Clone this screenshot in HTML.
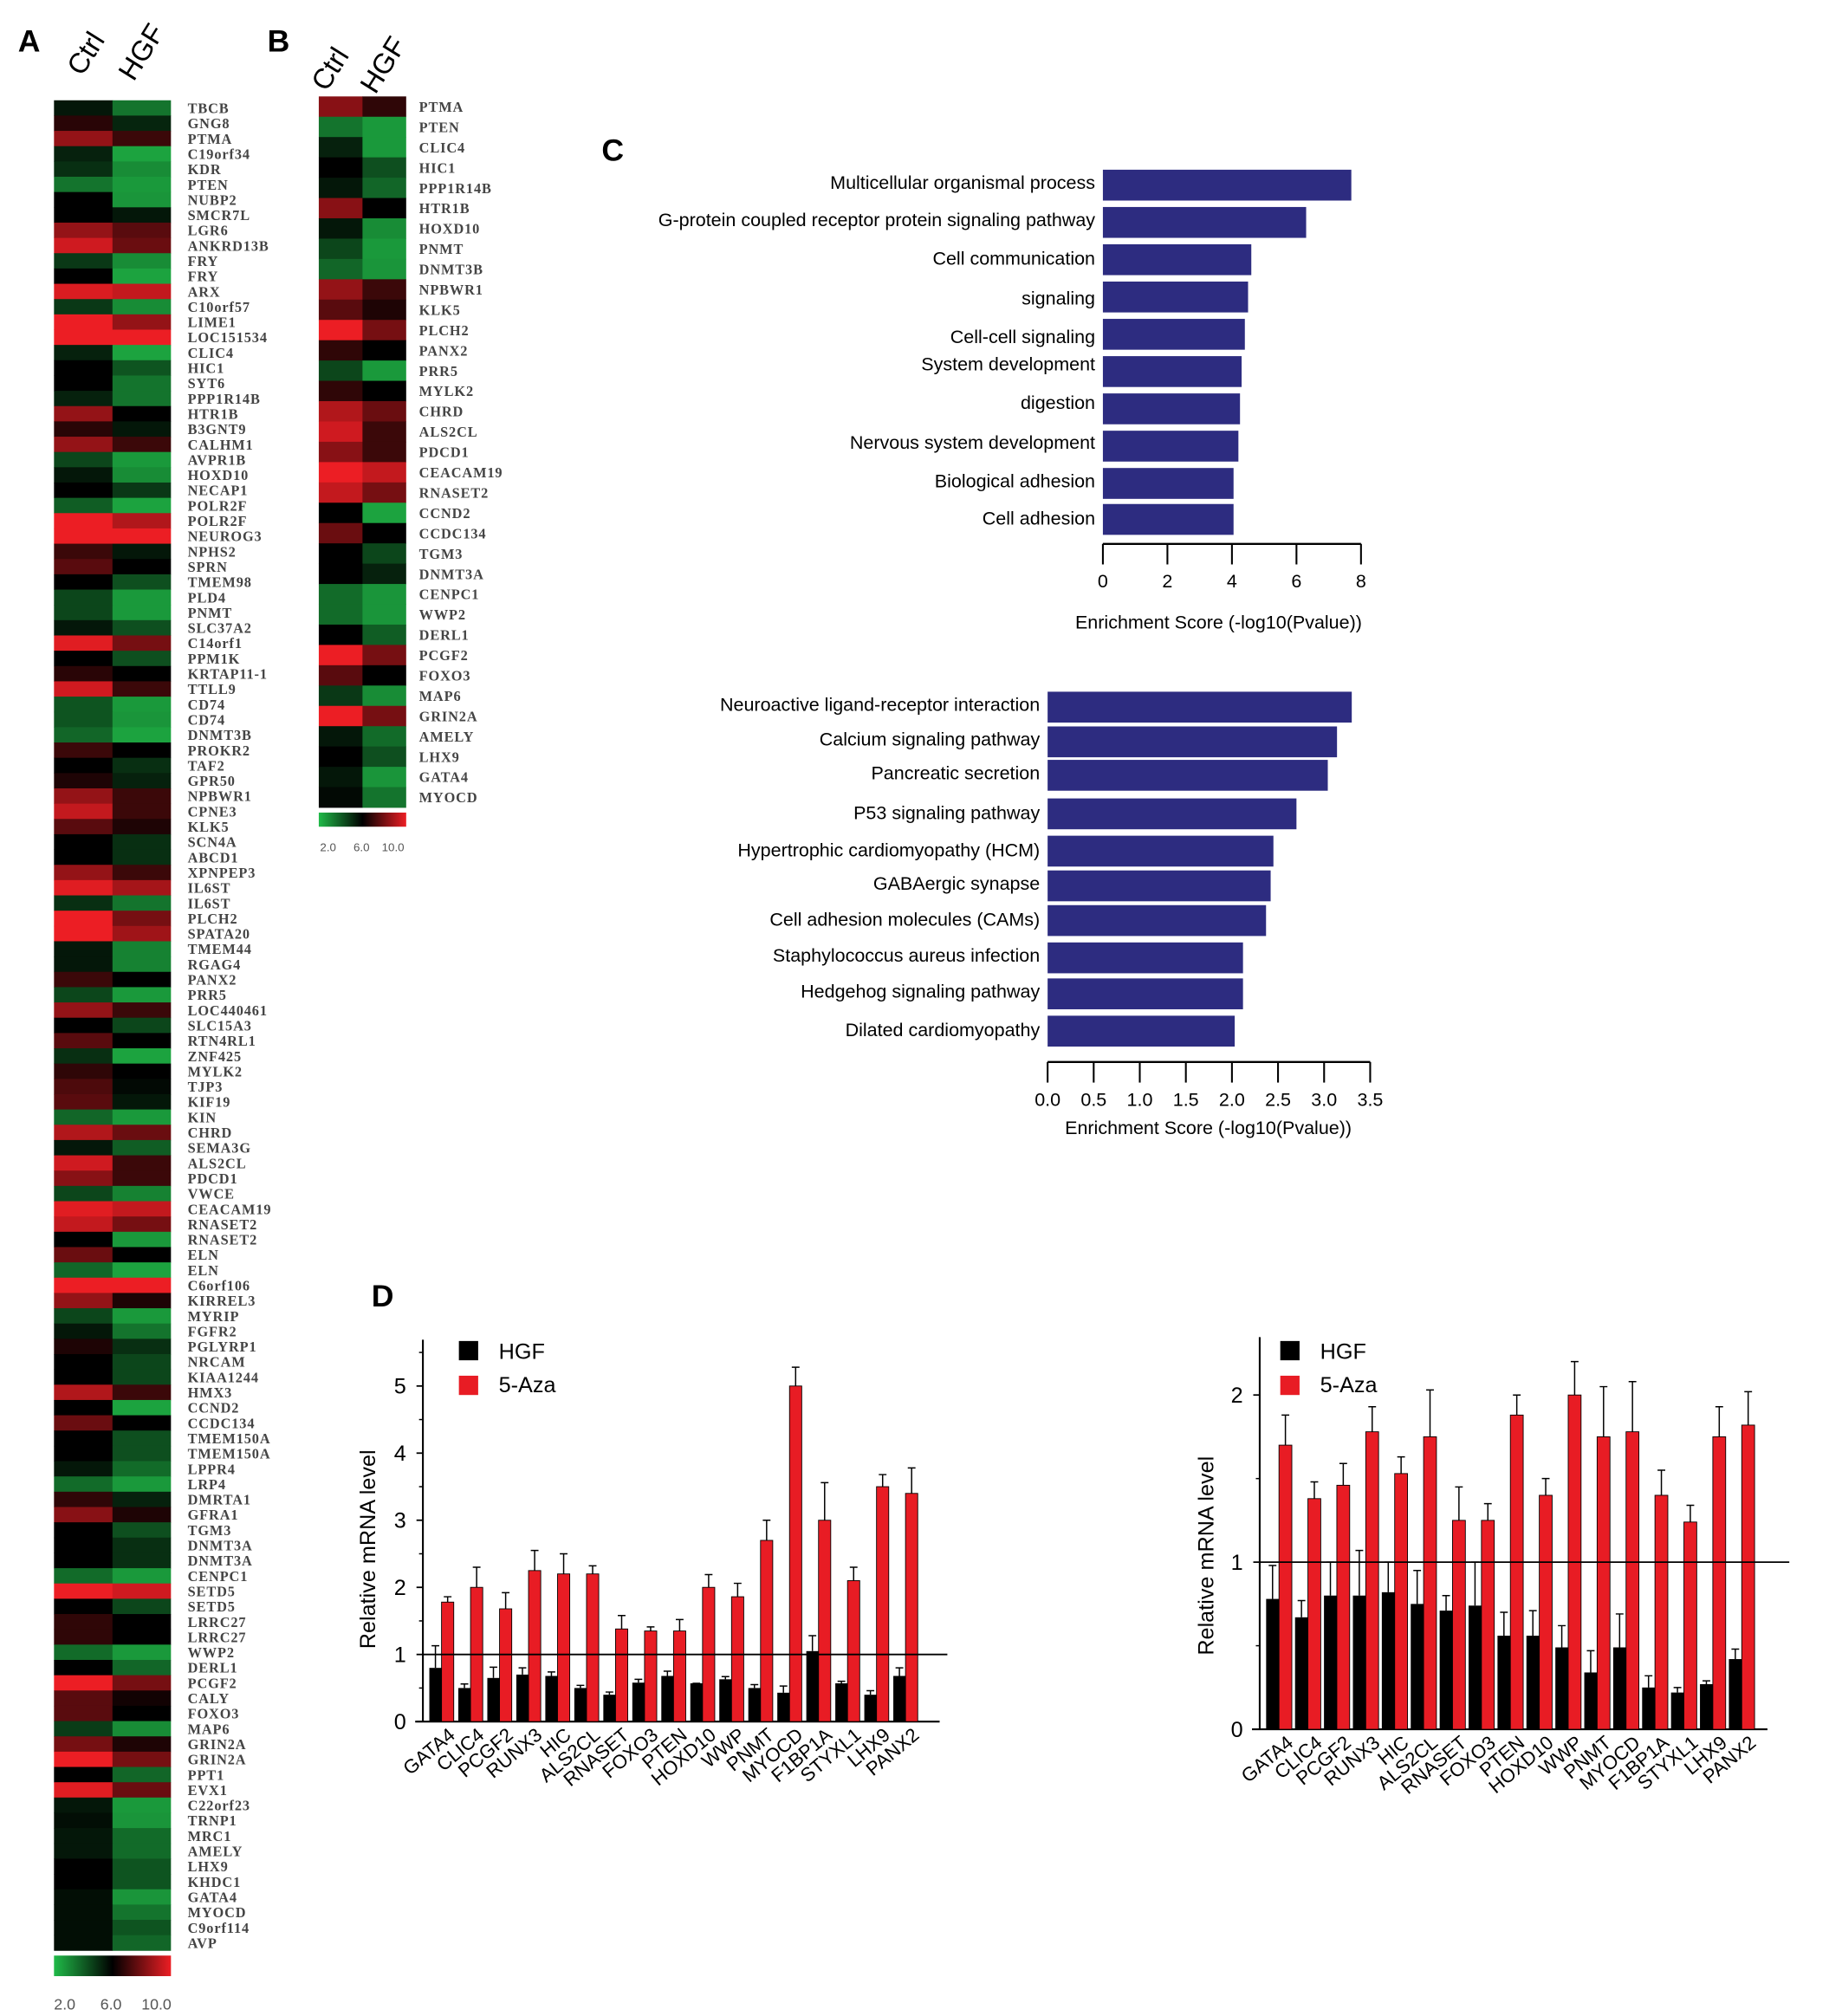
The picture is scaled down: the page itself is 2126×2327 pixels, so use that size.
<!DOCTYPE html>
<html><head><meta charset="utf-8">
<style>
html,body{margin:0;padding:0;background:#fff;}
svg{display:block;}
text{font-family:"Liberation Sans",sans-serif;}
.hl{font-family:"Liberation Serif",serif;font-weight:bold;font-size:11px;fill:#444;letter-spacing:0.6px;}
</style></head>
<body>
<svg id="fig" width="2126" height="2327" viewBox="0 0 1433 1568" preserveAspectRatio="none" xmlns="http://www.w3.org/2000/svg">
<defs>
<linearGradient id="cbar" x1="0" x2="1" y1="0" y2="0">
<stop offset="0" stop-color="rgb(32,186,72)"/><stop offset="0.5" stop-color="#000"/><stop offset="1" stop-color="rgb(236,30,36)"/>
</linearGradient>
</defs>
<g id="panelA"></g>
<g id="panelB"></g>
<g id="panelC1"></g>
<g id="panelC2"></g>
<g id="panelD1"></g>
<g id="panelD2"></g>
</svg>
<script>
// ---------- DATA ----------
const genesA = ["TBCB","GNG8","PTMA","C19orf34","KDR","PTEN","NUBP2","SMCR7L","LGR6","ANKRD13B","FRY","FRY","ARX","C10orf57","LIME1","LOC151534","CLIC4","HIC1","SYT6","PPP1R14B","HTR1B","B3GNT9","CALHM1","AVPR1B","HOXD10","NECAP1","POLR2F","POLR2F","NEUROG3","NPHS2","SPRN","TMEM98","PLD4","PNMT","SLC37A2","C14orf1","PPM1K","KRTAP11-1","TTLL9","CD74","CD74","DNMT3B","PROKR2","TAF2","GPR50","NPBWR1","CPNE3","KLK5","SCN4A","ABCD1","XPNPEP3","IL6ST","IL6ST","PLCH2","SPATA20","TMEM44","RGAG4","PANX2","PRR5","LOC440461","SLC15A3","RTN4RL1","ZNF425","MYLK2","TJP3","KIF19","KIN","CHRD","SEMA3G","ALS2CL","PDCD1","VWCE","CEACAM19","RNASET2","RNASET2","ELN","ELN","C6orf106","KIRREL3","MYRIP","FGFR2","PGLYRP1","NRCAM","KIAA1244","HMX3","CCND2","CCDC134","TMEM150A","TMEM150A","LPPR4","LRP4","DMRTA1","GFRA1","TGM3","DNMT3A","DNMT3A","CENPC1","SETD5","SETD5","LRRC27","LRRC27","WWP2","DERL1","PCGF2","CALY","FOXO3","MAP6","GRIN2A","GRIN2A","PPT1","EVX1","C22orf23","TRNP1","MRC1","AMELY","LHX9","KHDC1","GATA4","MYOCD","C9orf114","AVP"];
const ctrlA = [5.5,6.7,8.5,5.3,5,3.5,6,6,8.5,9.5,4.8,6,9.7,4.8,10,10,5.3,6,6,5.3,8.5,6.7,8.5,4.5,5.5,6,4,10,10,7,7.5,6,4.5,4.5,5.5,9.8,6,6.7,9.5,4.2,4.2,3.8,7,6,6.5,8.5,9.3,7.5,6,6,8.5,9.8,5,10,10,5.5,5.5,7,4.5,8.5,6,7.5,5,6.8,7.3,7.5,3.8,9,5.5,9.5,8.3,4.5,9.8,9.3,6,7.8,3.8,10,8.5,4.5,5.5,6.5,6,6,9,6,7.8,6,6,5.5,3.7,6.8,8.3,6,6,6,3.7,10,6,6.8,6.8,3.7,6,10,7.5,7.5,4.7,8,10,6,9.8,5.5,5.7,5.5,5.5,6,6,5.7,5.7,5.7,5.7];
const hgfA = [3.5,5.2,7,2.5,3,2.7,2.8,5.5,7.5,7.8,3,2.5,9.3,3,8.5,10,2.5,4.2,3.5,3.5,6,5.5,7,2.7,3,4.8,2.5,9,10,5.5,6,4.3,2.7,2.7,4.3,8,4.3,6,7,2.7,2.8,2.5,6,5,5.3,7,7,6.5,5,5,7,8.8,3.5,8,8.7,3.2,3.2,6,2.7,7,4.5,6,2.5,6,5.8,5.5,2.7,7.8,4,7,7,3.2,9.3,8,2.7,6,2.5,10,6.5,2.7,3.5,5,4.5,4.5,7,2.5,6,4.3,4.3,3.7,2.7,5.3,6.5,4.3,5,5,2.7,9.5,4.5,6,6,2.7,3.8,8,6.3,6,3,6.5,8,3.8,7.8,2.7,2.8,3.7,3.7,4.2,4.2,2.8,3.5,4.2,3.8];

const genesB = ["PTMA","PTEN","CLIC4","HIC1","PPP1R14B","HTR1B","HOXD10","PNMT","DNMT3B","NPBWR1","KLK5","PLCH2","PANX2","PRR5","MYLK2","CHRD","ALS2CL","PDCD1","CEACAM19","RNASET2","CCND2","CCDC134","TGM3","DNMT3A","CENPC1","WWP2","DERL1","PCGF2","FOXO3","MAP6","GRIN2A","AMELY","LHX9","GATA4","MYOCD"];
const ctrlB = [8.3,3.5,5.3,6,5.5,8.3,5.5,4.5,3.8,8.5,7.5,10,6.8,4.5,6.8,9,9.5,8.3,10,9.3,6,7.8,6,6,3.7,3.7,6,10,7.5,4.8,10,5.5,6,5.5,5.8];
const hgfB = [6.8,2.7,2.7,4.3,3.8,6,3,2.7,2.8,7,6.5,8,6,2.7,6,7.8,7,7,9.3,8,2.5,6,4.5,5.3,2.8,2.8,4,8,6,3,8,3.7,4.3,2.8,3.5];
const colorTicks = ["2.0","6.0","10.0"];

const goTerms = ["Multicellular organismal process","G-protein coupled receptor protein signaling pathway","Cell communication","signaling","Cell-cell signaling","System development","digestion","Nervous system development","Biological adhesion","Cell adhesion"];
const goScores = [7.7,6.3,4.6,4.5,4.4,4.3,4.25,4.2,4.05,4.05];
const goTicks = [0,2,4,6,8];

const keggTerms = ["Neuroactive ligand-receptor interaction","Calcium signaling pathway","Pancreatic secretion","P53 signaling pathway","Hypertrophic cardiomyopathy (HCM)","GABAergic synapse","Cell adhesion molecules (CAMs)","Staphylococcus aureus infection","Hedgehog signaling pathway","Dilated cardiomyopathy"];
const keggScores = [3.3,3.14,3.04,2.7,2.45,2.42,2.37,2.12,2.12,2.03];
const keggTicks = [0,0.5,1.0,1.5,2.0,2.5,3.0,3.5];

const qGenes = ["GATA4","CLIC4","PCGF2","RUNX3","HIC","ALS2CL","RNASET","FOXO3","PTEN","HOXD10","WWP","PNMT","MYOCD","F1BP1A","STYXL1","LHX9","PANX2"];
const d1Hgf = [0.8,0.5,0.65,0.7,0.68,0.5,0.4,0.58,0.68,0.57,0.63,0.5,0.43,1.05,0.57,0.4,0.68];
const d1HgfErr = [0.33,0.06,0.16,0.1,0.06,0.04,0.04,0.05,0.07,0.0,0.04,0.05,0.1,0.23,0.03,0.06,0.12];
const d1Aza = [1.78,2.0,1.68,2.25,2.2,2.2,1.38,1.35,1.35,2.0,1.86,2.7,5.0,3.0,2.1,3.5,3.4];
const d1AzaErr = [0.08,0.3,0.24,0.3,0.3,0.12,0.2,0.06,0.17,0.19,0.2,0.3,0.28,0.56,0.2,0.18,0.38];
const d1Ticks = [0,1,2,3,4,5];

const d2Hgf = [0.78,0.67,0.8,0.8,0.82,0.75,0.71,0.74,0.56,0.56,0.49,0.34,0.49,0.25,0.22,0.27,0.42];
const d2HgfErr = [0.2,0.1,0.2,0.27,0.18,0.2,0.09,0.26,0.14,0.15,0.13,0.13,0.2,0.07,0.03,0.02,0.06];
const d2Aza = [1.7,1.38,1.46,1.78,1.53,1.75,1.25,1.25,1.88,1.4,2.0,1.75,1.78,1.4,1.24,1.75,1.82];
const d2AzaErr = [0.18,0.1,0.13,0.15,0.1,0.28,0.2,0.1,0.12,0.1,0.2,0.3,0.3,0.15,0.1,0.18,0.2];
const d2Ticks = [0,1,2];

// ---------- HELPERS ----------
const NS = "http://www.w3.org/2000/svg";
function mk(parent, tag, attrs, txt){
  const e = document.createElementNS(NS, tag);
  for (const k in attrs) e.setAttribute(k, attrs[k]);
  if (txt !== undefined) e.textContent = txt;
  parent.appendChild(e);
  return e;
}
function heatColor(v){
  const g=[32,186,72], r=[236,30,36];
  let t=(v-6)/4; if(t>1)t=1; if(t<-1)t=-1;
  const c = t<0 ? g.map(x=>Math.round(x*(-t))) : r.map(x=>Math.round(x*t));
  return "rgb("+c.join(",")+")";
}

// ---------- HEATMAPS ----------
function heatmap(g, o){
  const lt = mk(g,"text",{x:o.letterX,y:o.letterY,"font-family":"Liberation Serif,serif","font-weight":"bold","font-size":"24"},o.letter);
  
  
  [["Ctrl",o.ctrlX,o.ctrlY],["HGF",o.hgfX,o.hgfY]].forEach(h=>{
    const t = mk(g,"text",{x:h[1],y:h[2],"font-size":"22",transform:"rotate(-58 "+h[1]+" "+h[2]+")"},h[0]);
    
    
  });
  const n=o.genes.length, rh=(o.y1-o.y0)/n, cw=(o.x1-o.x0)/2;
  for(let i=0;i<n;i++){
    const y=o.y0+i*rh;
    const a=mk(g,"rect",{x:o.x0,y:y,width:cw+0.3,height:rh+0.3,fill:heatColor(o.ctrl[i])});
    
    
    const b=mk(g,"rect",{x:o.x0+cw,y:y,width:cw,height:rh+0.3,fill:heatColor(o.hgf[i])});
    
    
    const t=mk(g,"text",{x:o.labelX,y:y+rh*0.5+4,"class":"hl","font-size":o.fs},o.genes[i]);
    
    
  }
  const cb=mk(g,"rect",{x:o.x0,y:o.cbY,width:o.x1-o.x0,height:o.cbH,fill:"url(#cbar)"});
  
  
  colorTicks.forEach((s,i)=>{
    const t=mk(g,"text",{x:o.cbLX[i],y:o.cbLY,"font-family":"Liberation Serif,serif","font-size":o.cbFs,fill:"#555"},s);
    
    
  });
}
heatmap(document.getElementById("panelA"),{letter:"A",letterX:14,letterY:40,ctrlX:64,ctrlY:60,hgfX:104,hgfY:64,
  genes:genesA,ctrl:ctrlA,hgf:hgfA,x0:42,x1:133,y0:78,y1:1517,labelX:146,fs:11,
  cbY:1521,cbH:16,cbLX:[42,78,110],cbLY:1563,cbFs:12});
heatmap(document.getElementById("panelB"),{letter:"B",letterX:208,letterY:40,ctrlX:254,ctrlY:72,hgfX:292,hgfY:74,
  genes:genesB,ctrl:ctrlB,hgf:hgfB,x0:248,x1:316,y0:75,y1:628,labelX:326,fs:12,
  cbY:632,cbH:11,cbLX:[249,275,297],cbLY:662,cbFs:9});

// ---------- PANEL C ----------
function hbar(g,o){
  const sx=v=>o.x0+v*o.ppu;
  for(let i=0;i<o.terms.length;i++){
    const cy=o.cy[i];
    const r=mk(g,"rect",{x:o.x0,y:cy-o.bh/2,width:sx(o.vals[i])-o.x0,height:o.bh,fill:"#2d2c80"});
    
    
    const t=mk(g,"text",{x:o.x0-6,y:o.ly[i]+5,"text-anchor":"end","font-size":"14.5"},o.terms[i]);
    
    
  }
  const ax=mk(g,"line",{x1:o.x0,x2:sx(o.ticks[o.ticks.length-1]),y1:o.axY,y2:o.axY,stroke:"#000","stroke-width":"1.6"});
  
  
  o.ticks.forEach(v=>{
    const l=mk(g,"line",{x1:sx(v),x2:sx(v),y1:o.axY,y2:o.axY+16,stroke:"#000","stroke-width":"1.4"});
    
    
    const t=mk(g,"text",{x:sx(v),y:o.axY+34,"text-anchor":"middle","font-size":"14.5"},o.fmt(v));
    
    
  });
  const tt=mk(g,"text",{x:o.titleX,y:o.titleY,"text-anchor":"middle","font-size":"14.5"},"Enrichment Score (-log10(Pvalue))");
  
  
}
const gC1=document.getElementById("panelC1");
const cl=mk(gC1,"text",{x:468,y:125,"font-family":"Liberation Serif,serif","font-weight":"bold","font-size":"24"},"C");


hbar(gC1,{terms:goTerms,vals:goScores,ticks:goTicks,x0:858,ppu:25.1,bh:24,
  cy:[144,173,202,231,260,289,318,347,376,404],ly:[142,171,201,232,262,283,313,344,374,403],
  axY:423,titleX:948,titleY:489,fmt:v=>String(v)});
hbar(document.getElementById("panelC2"),{terms:keggTerms,vals:keggScores,ticks:keggTicks,x0:815,ppu:71.7,bh:24,
  cy:[550,577,603,633,662,689,716,745,773,802],ly:[548,575,601,632,661,687,715,743,771,801],
  axY:826,titleX:940,titleY:882,fmt:v=>v.toFixed(1)});

// ---------- PANEL D ----------
function qbar(g,o){
  const sy=v=>o.y0-v*o.ppu;
  const yax=mk(g,"line",{x1:o.ax,x2:o.ax,y1:o.yTop,y2:o.y0,stroke:"#000","stroke-width":"1.4"});
  
  
  const xax=mk(g,"line",{x1:o.ax-6,x2:o.xEnd,y1:o.y0,y2:o.y0,stroke:"#000","stroke-width":"1.4"});
  
  
  o.ticks.forEach(v=>{
    const l=mk(g,"line",{x1:o.ax-5,x2:o.ax,y1:sy(v),y2:sy(v),stroke:"#000","stroke-width":"1.2"});
    
    
    if (sy(v+0.5) > o.yTop) {
      const m=mk(g,"line",{x1:o.ax-3,x2:o.ax,y1:sy(v+0.5),y2:sy(v+0.5),stroke:"#000","stroke-width":"1"});
      
      
    }
    const t=mk(g,"text",{x:o.ax-13,y:sy(v)+6,"text-anchor":"end","font-size":"17"},String(v));
    
    
  });
  const yt=mk(g,"text",{x:o.titleX,y:o.titleY,"text-anchor":"middle","font-size":"17",transform:"rotate(-90 "+o.titleX+" "+o.titleY+")"},"Relative mRNA level");
  
  
  qGenes.forEach((gn,i)=>{
    const bx=o.bx0+i*o.step;
    const hb=mk(g,"rect",{x:bx,y:sy(o.hgf[i]),width:o.bw,height:o.hgf[i]*o.ppu,fill:"#000"});
    
    
    const he=mk(g,"path",{d:"M"+(bx+o.bw/2)+" "+sy(o.hgf[i])+"V"+sy(o.hgf[i]+o.hgfE[i])+"M"+(bx+o.bw/2-3)+" "+sy(o.hgf[i]+o.hgfE[i])+"h6",stroke:"#000","stroke-width":"1",fill:"none"});
    
    
    const rx=bx+o.bw;
    const rb=mk(g,"rect",{x:rx,y:sy(o.aza[i]),width:o.bw,height:o.aza[i]*o.ppu,fill:"#e81c24",stroke:"#000","stroke-width":"0.6"});
    
    
    const re=mk(g,"path",{d:"M"+(rx+o.bw/2)+" "+sy(o.aza[i])+"V"+sy(o.aza[i]+o.azaE[i])+"M"+(rx+o.bw/2-3)+" "+sy(o.aza[i]+o.azaE[i])+"h6",stroke:"#000","stroke-width":"1",fill:"none"});
    
    
    const lx=rx+o.bw+2, ly=o.y0+12;
    const t=mk(g,"text",{x:lx,y:ly,"text-anchor":"end","font-size":"15",transform:"rotate(-40 "+lx+" "+ly+")"},gn);
    
    
  });
  const ref=mk(g,"line",{x1:o.ax,x2:o.refEnd,y1:sy(1),y2:sy(1),stroke:"#000","stroke-width":"1.2"});
  
  
  const k1=mk(g,"rect",{x:o.legX,y:1043,width:15,height:15,fill:"#000"});
  
  
  const t1=mk(g,"text",{x:o.legX+31,y:1057,"font-size":"17"},"HGF");
  
  
  const k2=mk(g,"rect",{x:o.legX,y:1070,width:15,height:15,fill:"#e81c24"});
  
  
  const t2=mk(g,"text",{x:o.legX+31,y:1083,"font-size":"17"},"5-Aza");
  
  
}
const gD1=document.getElementById("panelD1");
const dl=mk(gD1,"text",{x:289,y:1016,"font-family":"Liberation Serif,serif","font-weight":"bold","font-size":"24"},"D");


qbar(gD1,{hgf:d1Hgf,hgfE:d1HgfErr,aza:d1Aza,azaE:d1AzaErr,ticks:d1Ticks,ax:329,y0:1339,ppu:52.2,yTop:1042,
  xEnd:731,refEnd:737,bx0:334,step:22.56,bw:9.5,titleX:292,titleY:1205,legX:357});
qbar(document.getElementById("panelD2"),{hgf:d2Hgf,hgfE:d2HgfErr,aza:d2Aza,azaE:d2AzaErr,ticks:d2Ticks,ax:980,y0:1345,ppu:130,yTop:1040,
  xEnd:1375,refEnd:1392,bx0:985,step:22.5,bw:10,titleX:944,titleY:1210,legX:996});
</script>
</body></html>
